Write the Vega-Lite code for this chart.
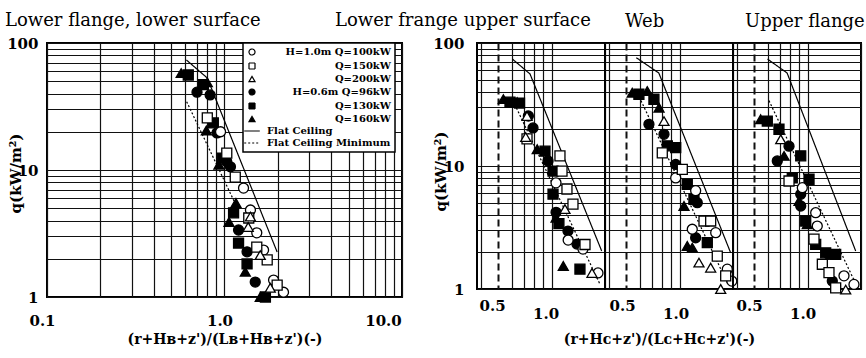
{
  "$schema": "https://vega.github.io/schema/vega-lite/v6.json",
  "autosize": {"type": "none"},
  "padding": {"left": 47, "top": 43, "right": 819, "bottom": 315},
  "background": "white",
  "config": {
    "view": {"stroke": "black", "strokeWidth": 2},
    "axis": {
      "labelFont": "DejaVu Serif", "labelFontWeight": "bold", "labelFontSize": 15, "labelColor": "black",
      "titleFont": "DejaVu Serif", "titleFontWeight": "bold", "titleFontSize": 14, "titleColor": "black",
      "grid": true, "gridColor": "#111111", "gridWidth": 1.2, "gridOpacity": 1,
      "ticks": false, "domain": false, "labelOverlap": false, "labelFlush": false
    },
    "title": {"font": "DejaVu Serif", "fontSize": 18, "fontWeight": "normal", "color": "black", "anchor": "start", "frame": "group", "baseline": "alphabetic", "dy": 3}
  },
  "datasets": {
    "curves": [
      {"panel": "L", "series": "Flat Ceiling", "ord": 1, "x": 0.61, "q": 73.5},
      {"panel": "L", "series": "Flat Ceiling", "ord": 2, "x": 0.80, "q": 53},
      {"panel": "L", "series": "Flat Ceiling", "ord": 3, "x": 1.98, "q": 2.26},
      {"panel": "L", "series": "Flat Ceiling Minimum", "ord": 1, "x": 0.612, "q": 34.5},
      {"panel": "L", "series": "Flat Ceiling Minimum", "ord": 2, "x": 1.175, "q": 5.1},
      {"panel": "S1", "series": "Flat Ceiling", "ord": 1, "x": 0.604, "q": 73.7},
      {"panel": "S1", "series": "Flat Ceiling", "ord": 2, "x": 0.756, "q": 56},
      {"panel": "S1", "series": "Flat Ceiling", "ord": 3, "x": 1.915, "q": 2.04},
      {"panel": "S1", "series": "Flat Ceiling Minimum", "ord": 1, "x": 0.606, "q": 34},
      {"panel": "S1", "series": "Flat Ceiling Minimum", "ord": 2, "x": 1.87, "q": 1.1},
      {"panel": "S2", "series": "Flat Ceiling", "ord": 1, "x": 0.57, "q": 76},
      {"panel": "S2", "series": "Flat Ceiling", "ord": 2, "x": 0.764, "q": 57},
      {"panel": "S2", "series": "Flat Ceiling", "ord": 3, "x": 1.94, "q": 1.97},
      {"panel": "S2", "series": "Flat Ceiling Minimum", "ord": 1, "x": 0.606, "q": 34},
      {"panel": "S2", "series": "Flat Ceiling Minimum", "ord": 2, "x": 1.87, "q": 1.1},
      {"panel": "S3", "series": "Flat Ceiling", "ord": 1, "x": 0.595, "q": 74},
      {"panel": "S3", "series": "Flat Ceiling", "ord": 2, "x": 0.767, "q": 57},
      {"panel": "S3", "series": "Flat Ceiling", "ord": 3, "x": 1.866, "q": 2.04},
      {"panel": "S3", "series": "Flat Ceiling Minimum", "ord": 1, "x": 0.606, "q": 34},
      {"panel": "S3", "series": "Flat Ceiling Minimum", "ord": 2, "x": 1.87, "q": 1.1}
    ],
    "pts": [
      {"panel": "L", "series": "Q=160kW", "x": 0.57, "q": 58},
      {"panel": "L", "series": "Q=160kW", "x": 0.80, "q": 49},
      {"panel": "L", "series": "Q=160kW", "x": 0.79, "q": 20.5},
      {"panel": "L", "series": "Q=160kW", "x": 0.93, "q": 11},
      {"panel": "L", "series": "Q=160kW", "x": 1.06, "q": 3.9},
      {"panel": "L", "series": "Q=160kW", "x": 1.16, "q": 5.5},
      {"panel": "L", "series": "Q=160kW", "x": 1.31, "q": 1.58},
      {"panel": "L", "series": "Q=160kW", "x": 1.59, "q": 1.0},
      {"panel": "L", "series": "Q=130kW", "x": 0.625, "q": 56},
      {"panel": "L", "series": "Q=130kW", "x": 0.76, "q": 47},
      {"panel": "L", "series": "Q=130kW", "x": 0.865, "q": 23.5},
      {"panel": "L", "series": "Q=130kW", "x": 0.97, "q": 12.4},
      {"panel": "L", "series": "Q=130kW", "x": 1.125, "q": 4.6},
      {"panel": "L", "series": "Q=130kW", "x": 1.20, "q": 2.66},
      {"panel": "L", "series": "Q=130kW", "x": 1.34, "q": 1.82},
      {"panel": "L", "series": "Q=130kW", "x": 1.70, "q": 1.0},
      {"panel": "L", "series": "H=0.6m Q=96kW", "x": 0.70, "q": 41},
      {"panel": "L", "series": "H=0.6m Q=96kW", "x": 0.83, "q": 39},
      {"panel": "L", "series": "H=0.6m Q=96kW", "x": 0.907, "q": 19.6},
      {"panel": "L", "series": "H=0.6m Q=96kW", "x": 1.03, "q": 11.6},
      {"panel": "L", "series": "H=0.6m Q=96kW", "x": 1.08, "q": 10.6},
      {"panel": "L", "series": "H=0.6m Q=96kW", "x": 1.20, "q": 3.37},
      {"panel": "L", "series": "H=0.6m Q=96kW", "x": 1.34, "q": 2.27},
      {"panel": "L", "series": "H=0.6m Q=96kW", "x": 1.49, "q": 1.31},
      {"panel": "L", "series": "H=1.0m Q=100kW", "x": 0.95, "q": 20},
      {"panel": "L", "series": "H=1.0m Q=100kW", "x": 1.28, "q": 7.2},
      {"panel": "L", "series": "H=1.0m Q=100kW", "x": 1.40, "q": 4.84},
      {"panel": "L", "series": "H=1.0m Q=100kW", "x": 1.52, "q": 3.2},
      {"panel": "L", "series": "H=1.0m Q=100kW", "x": 1.66, "q": 2.34},
      {"panel": "L", "series": "H=1.0m Q=100kW", "x": 1.89, "q": 1.36},
      {"panel": "L", "series": "H=1.0m Q=100kW", "x": 2.15, "q": 1.09},
      {"panel": "L", "series": "Q=150kW", "x": 0.80, "q": 25.7},
      {"panel": "L", "series": "Q=150kW", "x": 1.03, "q": 13.6},
      {"panel": "L", "series": "Q=150kW", "x": 1.15, "q": 8.8},
      {"panel": "L", "series": "Q=150kW", "x": 1.37, "q": 4.19},
      {"panel": "L", "series": "Q=150kW", "x": 1.52, "q": 2.47},
      {"panel": "L", "series": "Q=150kW", "x": 1.74, "q": 1.96},
      {"panel": "L", "series": "Q=150kW", "x": 1.98, "q": 1.24},
      {"panel": "L", "series": "Q=200kW", "x": 1.36, "q": 3.56},
      {"panel": "L", "series": "Q=200kW", "x": 1.40, "q": 4.3},
      {"panel": "L", "series": "Q=200kW", "x": 1.59, "q": 2.14},
      {"panel": "L", "series": "Q=200kW", "x": 1.81, "q": 1.18},

      {"panel": "S1", "series": "Q=160kW", "x": 0.535, "q": 35},
      {"panel": "S1", "series": "Q=160kW", "x": 0.64, "q": 33},
      {"panel": "S1", "series": "Q=160kW", "x": 0.83, "q": 13.7},
      {"panel": "S1", "series": "Q=160kW", "x": 1.06, "q": 3.8},
      {"panel": "S1", "series": "Q=160kW", "x": 1.164, "q": 1.54},
      {"panel": "S1", "series": "Q=130kW", "x": 0.583, "q": 33},
      {"panel": "S1", "series": "Q=130kW", "x": 0.66, "q": 32.5},
      {"panel": "S1", "series": "Q=130kW", "x": 0.918, "q": 13.2},
      {"panel": "S1", "series": "Q=130kW", "x": 1.019, "q": 9.1},
      {"panel": "S1", "series": "Q=130kW", "x": 1.019, "q": 5.9},
      {"panel": "S1", "series": "Q=130kW", "x": 1.10, "q": 3.4},
      {"panel": "S1", "series": "Q=130kW", "x": 1.445, "q": 1.45},
      {"panel": "S1", "series": "H=0.6m Q=96kW", "x": 0.74, "q": 25.5},
      {"panel": "S1", "series": "H=0.6m Q=96kW", "x": 0.786, "q": 20.4},
      {"panel": "S1", "series": "H=0.6m Q=96kW", "x": 0.955, "q": 11},
      {"panel": "S1", "series": "H=0.6m Q=96kW", "x": 1.06, "q": 4.2},
      {"panel": "S1", "series": "H=0.6m Q=96kW", "x": 1.237, "q": 2.96},
      {"panel": "S1", "series": "H=0.6m Q=96kW", "x": 1.39, "q": 2.32},
      {"panel": "S1", "series": "H=1.0m Q=100kW", "x": 1.059, "q": 7.3},
      {"panel": "S1", "series": "H=1.0m Q=100kW", "x": 1.24, "q": 2.5},
      {"panel": "S1", "series": "H=1.0m Q=100kW", "x": 1.503, "q": 2.11},
      {"panel": "S1", "series": "H=1.0m Q=100kW", "x": 1.826, "q": 1.35},
      {"panel": "S1", "series": "Q=150kW", "x": 0.727, "q": 16.6},
      {"panel": "S1", "series": "Q=150kW", "x": 1.115, "q": 12.1},
      {"panel": "S1", "series": "Q=150kW", "x": 1.145, "q": 9.1},
      {"panel": "S1", "series": "Q=150kW", "x": 1.221, "q": 6.5},
      {"panel": "S1", "series": "Q=150kW", "x": 1.32, "q": 4.9},
      {"panel": "S1", "series": "Q=150kW", "x": 1.543, "q": 2.3},
      {"panel": "S1", "series": "Q=200kW", "x": 0.727, "q": 25.5},
      {"panel": "S1", "series": "Q=200kW", "x": 0.715, "q": 17.2},
      {"panel": "S1", "series": "Q=200kW", "x": 1.19, "q": 4.47},
      {"panel": "S1", "series": "Q=200kW", "x": 1.689, "q": 1.35},

      {"panel": "S2", "series": "Q=160kW", "x": 0.541, "q": 39.4},
      {"panel": "S2", "series": "Q=160kW", "x": 0.658, "q": 40.7},
      {"panel": "S2", "series": "Q=160kW", "x": 0.766, "q": 29.8},
      {"panel": "S2", "series": "Q=160kW", "x": 1.059, "q": 4.73},
      {"panel": "S2", "series": "Q=160kW", "x": 1.105, "q": 2.24},
      {"panel": "S2", "series": "Q=160kW", "x": 1.179, "q": 2.17},
      {"panel": "S2", "series": "Q=130kW", "x": 0.59, "q": 38.3},
      {"panel": "S2", "series": "Q=130kW", "x": 0.717, "q": 34.9},
      {"panel": "S2", "series": "Q=130kW", "x": 0.853, "q": 14.6},
      {"panel": "S2", "series": "Q=130kW", "x": 0.951, "q": 14.1},
      {"panel": "S2", "series": "Q=130kW", "x": 1.105, "q": 7.1},
      {"panel": "S2", "series": "Q=130kW", "x": 1.205, "q": 5.36},
      {"panel": "S2", "series": "Q=130kW", "x": 1.433, "q": 2.38},
      {"panel": "S2", "series": "H=0.6m Q=96kW", "x": 0.672, "q": 21.8},
      {"panel": "S2", "series": "H=0.6m Q=96kW", "x": 0.817, "q": 18.1},
      {"panel": "S2", "series": "H=0.6m Q=96kW", "x": 0.951, "q": 10.3},
      {"panel": "S2", "series": "H=0.6m Q=96kW", "x": 1.258, "q": 5.03},
      {"panel": "S2", "series": "H=0.6m Q=96kW", "x": 1.232, "q": 2.61},
      {"panel": "S2", "series": "H=1.0m Q=100kW", "x": 0.951, "q": 8.0},
      {"panel": "S2", "series": "H=1.0m Q=100kW", "x": 1.232, "q": 6.3},
      {"panel": "S2", "series": "H=1.0m Q=100kW", "x": 1.179, "q": 3.06},
      {"panel": "S2", "series": "H=1.0m Q=100kW", "x": 1.598, "q": 2.87},
      {"panel": "S2", "series": "H=1.0m Q=100kW", "x": 1.857, "q": 1.45},
      {"panel": "S2", "series": "H=1.0m Q=100kW", "x": 1.97, "q": 1.16},
      {"panel": "S2", "series": "Q=150kW", "x": 0.799, "q": 12.8},
      {"panel": "S2", "series": "Q=150kW", "x": 1.036, "q": 9.4},
      {"panel": "S2", "series": "Q=150kW", "x": 1.373, "q": 3.57},
      {"panel": "S2", "series": "Q=150kW", "x": 1.497, "q": 3.57},
      {"panel": "S2", "series": "Q=150kW", "x": 1.631, "q": 1.85},
      {"panel": "S2", "series": "Q=150kW", "x": 1.819, "q": 1.28},
      {"panel": "S2", "series": "Q=200kW", "x": 0.817, "q": 23.2},
      {"panel": "S2", "series": "Q=200kW", "x": 1.286, "q": 1.64},
      {"panel": "S2", "series": "Q=200kW", "x": 1.497, "q": 1.49},
      {"panel": "S2", "series": "Q=200kW", "x": 1.705, "q": 1.0},

      {"panel": "S3", "series": "Q=160kW", "x": 0.544, "q": 24},
      {"panel": "S3", "series": "Q=160kW", "x": 0.737, "q": 12.1},
      {"panel": "S3", "series": "Q=160kW", "x": 0.895, "q": 5.19},
      {"panel": "S3", "series": "Q=160kW", "x": 0.996, "q": 3.36},
      {"panel": "S3", "series": "Q=130kW", "x": 0.593, "q": 23.2},
      {"panel": "S3", "series": "Q=130kW", "x": 0.69, "q": 19.9},
      {"panel": "S3", "series": "Q=130kW", "x": 0.82, "q": 8.0},
      {"panel": "S3", "series": "Q=130kW", "x": 0.915, "q": 12.1},
      {"panel": "S3", "series": "Q=130kW", "x": 1.019, "q": 7.8},
      {"panel": "S3", "series": "Q=130kW", "x": 0.976, "q": 3.57},
      {"panel": "S3", "series": "Q=130kW", "x": 1.111, "q": 2.31},
      {"panel": "S3", "series": "Q=130kW", "x": 1.265, "q": 1.97},
      {"panel": "S3", "series": "Q=130kW", "x": 1.44, "q": 1.91},
      {"panel": "S3", "series": "H=0.6m Q=96kW", "x": 0.675, "q": 11},
      {"panel": "S3", "series": "H=0.6m Q=96kW", "x": 0.786, "q": 14.5},
      {"panel": "S3", "series": "H=0.6m Q=96kW", "x": 0.915, "q": 5.89},
      {"panel": "S3", "series": "H=0.6m Q=96kW", "x": 0.915, "q": 4.73},
      {"panel": "S3", "series": "H=0.6m Q=96kW", "x": 1.32, "q": 1.91},
      {"panel": "S3", "series": "H=0.6m Q=96kW", "x": 1.378, "q": 1.16},
      {"panel": "S3", "series": "H=1.0m Q=100kW", "x": 0.934, "q": 6.66},
      {"panel": "S3", "series": "H=1.0m Q=100kW", "x": 1.111, "q": 4.17},
      {"panel": "S3", "series": "H=1.0m Q=100kW", "x": 1.134, "q": 3.25},
      {"panel": "S3", "series": "H=1.0m Q=100kW", "x": 1.604, "q": 1.28},
      {"panel": "S3", "series": "H=1.0m Q=100kW", "x": 1.826, "q": 1.09},
      {"panel": "S3", "series": "Q=150kW", "x": 0.786, "q": 7.55},
      {"panel": "S3", "series": "Q=150kW", "x": 1.087, "q": 2.54},
      {"panel": "S3", "series": "Q=150kW", "x": 1.211, "q": 1.59},
      {"panel": "S3", "series": "Q=150kW", "x": 1.32, "q": 1.36},
      {"panel": "S3", "series": "Q=150kW", "x": 1.44, "q": 1.02},
      {"panel": "S3", "series": "Q=200kW", "x": 0.706, "q": 16.5},
      {"panel": "S3", "series": "Q=200kW", "x": 1.64, "q": 0.99}
    ]
  },
  "spacing": 75,
  "bounds": "flush",
  "hconcat": [
    {
      "width": 355,
      "height": 254,
      "title": {"text": "Lower flange, lower surface", "dx": -42, "offset": 9},
      "layer": [
        {
          "data": {"name": "curves"},
          "transform": [{"filter": "datum.panel === 'L'"}],
          "mark": {"type": "line", "color": "black", "strokeWidth": 1.2},
          "encoding": {
            "x": {"field": "x", "type": "quantitative",
              "scale": {"type": "log", "domain": [0.1, 10], "nice": false},
              "axis": {
                "values": [0.1, 0.2, 0.3, 0.4, 0.5, 0.6, 0.7, 0.8, 0.9, 1, 2, 3, 4, 5, 6, 7, 8, 9, 10],
                "labelExpr": "datum.value === 0.1 ? '0.1' : datum.value === 1 ? '1.0' : datum.value === 10 ? '10.0' : ''",
                "labelPadding": 16,
                "labelOffset": {"condition": {"test": "datum.value === 10", "value": -19}, "value": -5},
                "title": "(r+Hʙ+z')/(Lʙ+Hʙ+z')(-)",
                "titleY": 35, "titleBaseline": "top"
              }},
            "y": {"field": "q", "type": "quantitative",
              "scale": {"type": "log", "domain": [1, 100], "nice": false},
              "axis": {
                "values": [1, 2, 3, 4, 5, 6, 7, 8, 9, 10, 20, 30, 40, 50, 60, 70, 80, 90, 100],
                "labelExpr": "datum.value === 1 ? '1' : datum.value === 10 ? '10' : datum.value === 100 ? '100' : ''",
                "labelPadding": 9,
                "title": "q(kW/m²)", "titleFontSize": 15,
                "titleX": -24, "titleY": 130, "titleAngle": 270, "titleBaseline": "bottom"
              }},
            "order": {"field": "ord"},
            "strokeDash": {"field": "series", "type": "nominal",
              "scale": {"domain": ["H=1.0m Q=100kW", "Q=150kW", "Q=200kW", "H=0.6m Q=96kW", "Q=130kW", "Q=160kW", "Flat Ceiling", "Flat Ceiling Minimum"],
                        "range": [[1, 0], [1, 0], [1, 0], [1, 0], [1, 0], [1, 0], [1, 0], [2, 2]]},
              "legend": {
                "title": null, "orient": "none", "legendX": 196, "legendY": 0,
                "padding": 4, "rowPadding": 2,
                "labelFont": "DejaVu Serif", "labelFontWeight": "bold", "labelFontSize": 10, "labelColor": "black",
                "labelOffset": 10, "labelLimit": 0, "symbolSize": 36, "symbolStrokeColor": "black", "symbolStrokeWidth": 1.2,
                "fillColor": "white", "strokeColor": "black",
                "encode": {
                  "legend": {"update": {"strokeWidth": {"value": 1.5}}},
                  "labels": {"update": {
                    "align": {"signal": "datum.value === 'Flat Ceiling' || datum.value === 'Flat Ceiling Minimum' ? 'left' : 'right'"},
                    "dx": {"signal": "datum.value === 'Flat Ceiling' || datum.value === 'Flat Ceiling Minimum' ? 0 : 124"}
                  }}
                }
              }}
          }
        },
        {
          "data": {"name": "pts"},
          "transform": [{"filter": "datum.panel === 'L'"}],
          "mark": {"type": "point", "filled": true, "size": 100, "stroke": "black", "strokeWidth": 1.3, "opacity": 1},
          "encoding": {
            "x": {"field": "x", "type": "quantitative"},
            "y": {"field": "q", "type": "quantitative"},
            "shape": {"field": "series", "type": "nominal",
              "scale": {"domain": ["H=1.0m Q=100kW", "Q=150kW", "Q=200kW", "H=0.6m Q=96kW", "Q=130kW", "Q=160kW", "Flat Ceiling", "Flat Ceiling Minimum"],
                        "range": ["circle", "square", "triangle-up", "circle", "square", "triangle-up", "M-2.6,0H2.6", "M-2.6,0H2.6"]},
              "legend": {
                "title": null, "orient": "none", "legendX": 196, "legendY": 0,
                "padding": 4, "rowPadding": 2,
                "labelFont": "DejaVu Serif", "labelFontWeight": "bold", "labelFontSize": 10, "labelColor": "black",
                "labelOffset": 10, "labelLimit": 0, "symbolSize": 36, "symbolStrokeColor": "black", "symbolStrokeWidth": 1.2,
                "fillColor": "white", "strokeColor": "black"
              }},
            "fill": {"field": "series", "type": "nominal",
              "scale": {"domain": ["H=1.0m Q=100kW", "Q=150kW", "Q=200kW", "H=0.6m Q=96kW", "Q=130kW", "Q=160kW", "Flat Ceiling", "Flat Ceiling Minimum"],
                        "range": ["white", "white", "white", "black", "black", "black", "transparent", "transparent"]},
              "legend": {
                "title": null, "orient": "none", "legendX": 196, "legendY": 0,
                "padding": 4, "rowPadding": 2,
                "labelFont": "DejaVu Serif", "labelFontWeight": "bold", "labelFontSize": 10, "labelColor": "black",
                "labelOffset": 10, "labelLimit": 0, "symbolSize": 36, "symbolStrokeColor": "black", "symbolStrokeWidth": 1.2,
                "fillColor": "white", "strokeColor": "black"
              }}
          }
        }
      ]
    },
    {
      "spacing": 0,
      "bounds": "flush",
      "hconcat": [
        {
          "width": 128,
          "height": 246,
          "title": {"text": "Lower frange upper surface", "dx": -142, "offset": 9},
          "layer": [
            {
              "data": {"name": "curves"},
              "transform": [{"filter": "datum.panel === 'S1'"}],
              "mark": {"type": "line", "color": "black", "strokeWidth": 1.2},
              "encoding": {
                "x": {"field": "x", "type": "quantitative",
                  "scale": {"type": "log", "domain": [0.38, 2], "nice": false},
                  "axis": {
                    "values": [0.4, 0.5, 0.6, 0.7, 0.8, 0.9, 1, 2],
                    "labelExpr": "datum.value === 0.5 ? '0.5' : datum.value === 1 ? '1.0' : ''",
                    "labelPadding": {"condition": {"test": "datum.value === 0.5", "value": 9}, "value": 17},
                    "labelOffset": -6,
                    "gridDash": {"condition": {"test": "datum.value === 0.5", "value": [7, 4]}, "value": []},
                    "gridWidth": {"condition": {"test": "datum.value === 0.5", "value": 2}, "value": 1.2},
                    "title": null
                  }},
                "y": {"field": "q", "type": "quantitative",
                  "scale": {"type": "log", "domain": [1, 100], "nice": false},
                  "axis": {
                    "values": [1, 2, 3, 4, 5, 6, 7, 8, 9, 10, 20, 30, 40, 50, 60, 70, 80, 90, 100],
                    "labelExpr": "datum.value === 1 ? '1' : datum.value === 10 ? '10' : datum.value === 100 ? '100' : ''",
                    "labelPadding": 13,
                    "title": "q(kW/m²)", "titleFontSize": 15,
                    "titleX": -29, "titleY": 128, "titleAngle": 270, "titleBaseline": "bottom"
                  }},
                "order": {"field": "ord"},
                "strokeDash": {"field": "series", "type": "nominal",
                  "scale": {"domain": ["H=1.0m Q=100kW", "Q=150kW", "Q=200kW", "H=0.6m Q=96kW", "Q=130kW", "Q=160kW", "Flat Ceiling", "Flat Ceiling Minimum"],
                            "range": [[1, 0], [1, 0], [1, 0], [1, 0], [1, 0], [1, 0], [1, 0], [2, 2]]},
                  "legend": null}
              }
            },
            {
              "data": {"name": "pts"},
              "transform": [{"filter": "datum.panel === 'S1'"}],
              "mark": {"type": "point", "filled": true, "size": 100, "stroke": "black", "strokeWidth": 1.3, "opacity": 1},
              "encoding": {
                "x": {"field": "x", "type": "quantitative"},
                "y": {"field": "q", "type": "quantitative"},
                "shape": {"field": "series", "type": "nominal",
                  "scale": {"domain": ["H=1.0m Q=100kW", "Q=150kW", "Q=200kW", "H=0.6m Q=96kW", "Q=130kW", "Q=160kW", "Flat Ceiling", "Flat Ceiling Minimum"],
                            "range": ["circle", "square", "triangle-up", "circle", "square", "triangle-up", "M-2.6,0H2.6", "M-2.6,0H2.6"]},
                  "legend": null},
                "fill": {"field": "series", "type": "nominal",
                  "scale": {"domain": ["H=1.0m Q=100kW", "Q=150kW", "Q=200kW", "H=0.6m Q=96kW", "Q=130kW", "Q=160kW", "Flat Ceiling", "Flat Ceiling Minimum"],
                            "range": ["white", "white", "white", "black", "black", "black", "transparent", "transparent"]},
                  "legend": null}
              }
            }
          ]
        },
        {
          "width": 128,
          "height": 246,
          "title": {"text": "Web", "dx": 20, "offset": 15},
          "layer": [
            {
              "data": {"name": "curves"},
              "transform": [{"filter": "datum.panel === 'S2'"}],
              "mark": {"type": "line", "color": "black", "strokeWidth": 1.2},
              "encoding": {
                "x": {"field": "x", "type": "quantitative",
                  "scale": {"type": "log", "domain": [0.38, 2], "nice": false},
                  "axis": {
                    "values": [0.4, 0.5, 0.6, 0.7, 0.8, 0.9, 1, 2],
                    "labelExpr": "datum.value === 0.5 ? '0.5' : datum.value === 1 ? '1.0' : ''",
                    "labelPadding": {"condition": {"test": "datum.value === 0.5", "value": 9}, "value": 17},
                    "labelOffset": -4,
                    "gridDash": {"condition": {"test": "datum.value === 0.5", "value": [7, 4]}, "value": []},
                    "gridWidth": {"condition": {"test": "datum.value === 0.5", "value": 2}, "value": 1.2},
                    "title": "(r+Hᴄ+z')/(Lᴄ+Hᴄ+z')(-)",
                    "titleX": 54, "titleY": 43, "titleBaseline": "top"
                  }},
                "y": {"field": "q", "type": "quantitative",
                  "scale": {"type": "log", "domain": [1, 100], "nice": false},
                  "axis": {
                    "values": [1, 2, 3, 4, 5, 6, 7, 8, 9, 10, 20, 30, 40, 50, 60, 70, 80, 90, 100],
                    "labels": false, "title": null
                  }},
                "order": {"field": "ord"},
                "strokeDash": {"field": "series", "type": "nominal",
                  "scale": {"domain": ["H=1.0m Q=100kW", "Q=150kW", "Q=200kW", "H=0.6m Q=96kW", "Q=130kW", "Q=160kW", "Flat Ceiling", "Flat Ceiling Minimum"],
                            "range": [[1, 0], [1, 0], [1, 0], [1, 0], [1, 0], [1, 0], [1, 0], [2, 2]]},
                  "legend": null}
              }
            },
            {
              "data": {"name": "pts"},
              "transform": [{"filter": "datum.panel === 'S2'"}],
              "mark": {"type": "point", "filled": true, "size": 100, "stroke": "black", "strokeWidth": 1.3, "opacity": 1},
              "encoding": {
                "x": {"field": "x", "type": "quantitative"},
                "y": {"field": "q", "type": "quantitative"},
                "shape": {"field": "series", "type": "nominal",
                  "scale": {"domain": ["H=1.0m Q=100kW", "Q=150kW", "Q=200kW", "H=0.6m Q=96kW", "Q=130kW", "Q=160kW", "Flat Ceiling", "Flat Ceiling Minimum"],
                            "range": ["circle", "square", "triangle-up", "circle", "square", "triangle-up", "M-2.6,0H2.6", "M-2.6,0H2.6"]},
                  "legend": null},
                "fill": {"field": "series", "type": "nominal",
                  "scale": {"domain": ["H=1.0m Q=100kW", "Q=150kW", "Q=200kW", "H=0.6m Q=96kW", "Q=130kW", "Q=160kW", "Flat Ceiling", "Flat Ceiling Minimum"],
                            "range": ["white", "white", "white", "black", "black", "black", "transparent", "transparent"]},
                  "legend": null}
              }
            }
          ]
        },
        {
          "width": 128,
          "height": 246,
          "title": {"text": "Upper flange", "dx": 12, "offset": 15},
          "layer": [
            {
              "data": {"name": "curves"},
              "transform": [{"filter": "datum.panel === 'S3'"}],
              "mark": {"type": "line", "color": "black", "strokeWidth": 1.2},
              "encoding": {
                "x": {"field": "x", "type": "quantitative",
                  "scale": {"type": "log", "domain": [0.38, 2], "nice": false},
                  "axis": {
                    "values": [0.4, 0.5, 0.6, 0.7, 0.8, 0.9, 1, 2],
                    "labelExpr": "datum.value === 0.5 ? '0.5' : datum.value === 1 ? '1.0' : ''",
                    "labelPadding": {"condition": {"test": "datum.value === 0.5", "value": 9}, "value": 17},
                    "labelOffset": -5,
                    "gridDash": {"condition": {"test": "datum.value === 0.5", "value": [7, 4]}, "value": []},
                    "gridWidth": {"condition": {"test": "datum.value === 0.5", "value": 2}, "value": 1.2},
                    "title": null
                  }},
                "y": {"field": "q", "type": "quantitative",
                  "scale": {"type": "log", "domain": [1, 100], "nice": false},
                  "axis": {
                    "values": [1, 2, 3, 4, 5, 6, 7, 8, 9, 10, 20, 30, 40, 50, 60, 70, 80, 90, 100],
                    "labels": false, "title": null
                  }},
                "order": {"field": "ord"},
                "strokeDash": {"field": "series", "type": "nominal",
                  "scale": {"domain": ["H=1.0m Q=100kW", "Q=150kW", "Q=200kW", "H=0.6m Q=96kW", "Q=130kW", "Q=160kW", "Flat Ceiling", "Flat Ceiling Minimum"],
                            "range": [[1, 0], [1, 0], [1, 0], [1, 0], [1, 0], [1, 0], [1, 0], [2, 2]]},
                  "legend": null}
              }
            },
            {
              "data": {"name": "pts"},
              "transform": [{"filter": "datum.panel === 'S3'"}],
              "mark": {"type": "point", "filled": true, "size": 100, "stroke": "black", "strokeWidth": 1.3, "opacity": 1},
              "encoding": {
                "x": {"field": "x", "type": "quantitative"},
                "y": {"field": "q", "type": "quantitative"},
                "shape": {"field": "series", "type": "nominal",
                  "scale": {"domain": ["H=1.0m Q=100kW", "Q=150kW", "Q=200kW", "H=0.6m Q=96kW", "Q=130kW", "Q=160kW", "Flat Ceiling", "Flat Ceiling Minimum"],
                            "range": ["circle", "square", "triangle-up", "circle", "square", "triangle-up", "M-2.6,0H2.6", "M-2.6,0H2.6"]},
                  "legend": null},
                "fill": {"field": "series", "type": "nominal",
                  "scale": {"domain": ["H=1.0m Q=100kW", "Q=150kW", "Q=200kW", "H=0.6m Q=96kW", "Q=130kW", "Q=160kW", "Flat Ceiling", "Flat Ceiling Minimum"],
                            "range": ["white", "white", "white", "black", "black", "black", "transparent", "transparent"]},
                  "legend": null}
              }
            }
          ]
        }
      ]
    }
  ]
}
